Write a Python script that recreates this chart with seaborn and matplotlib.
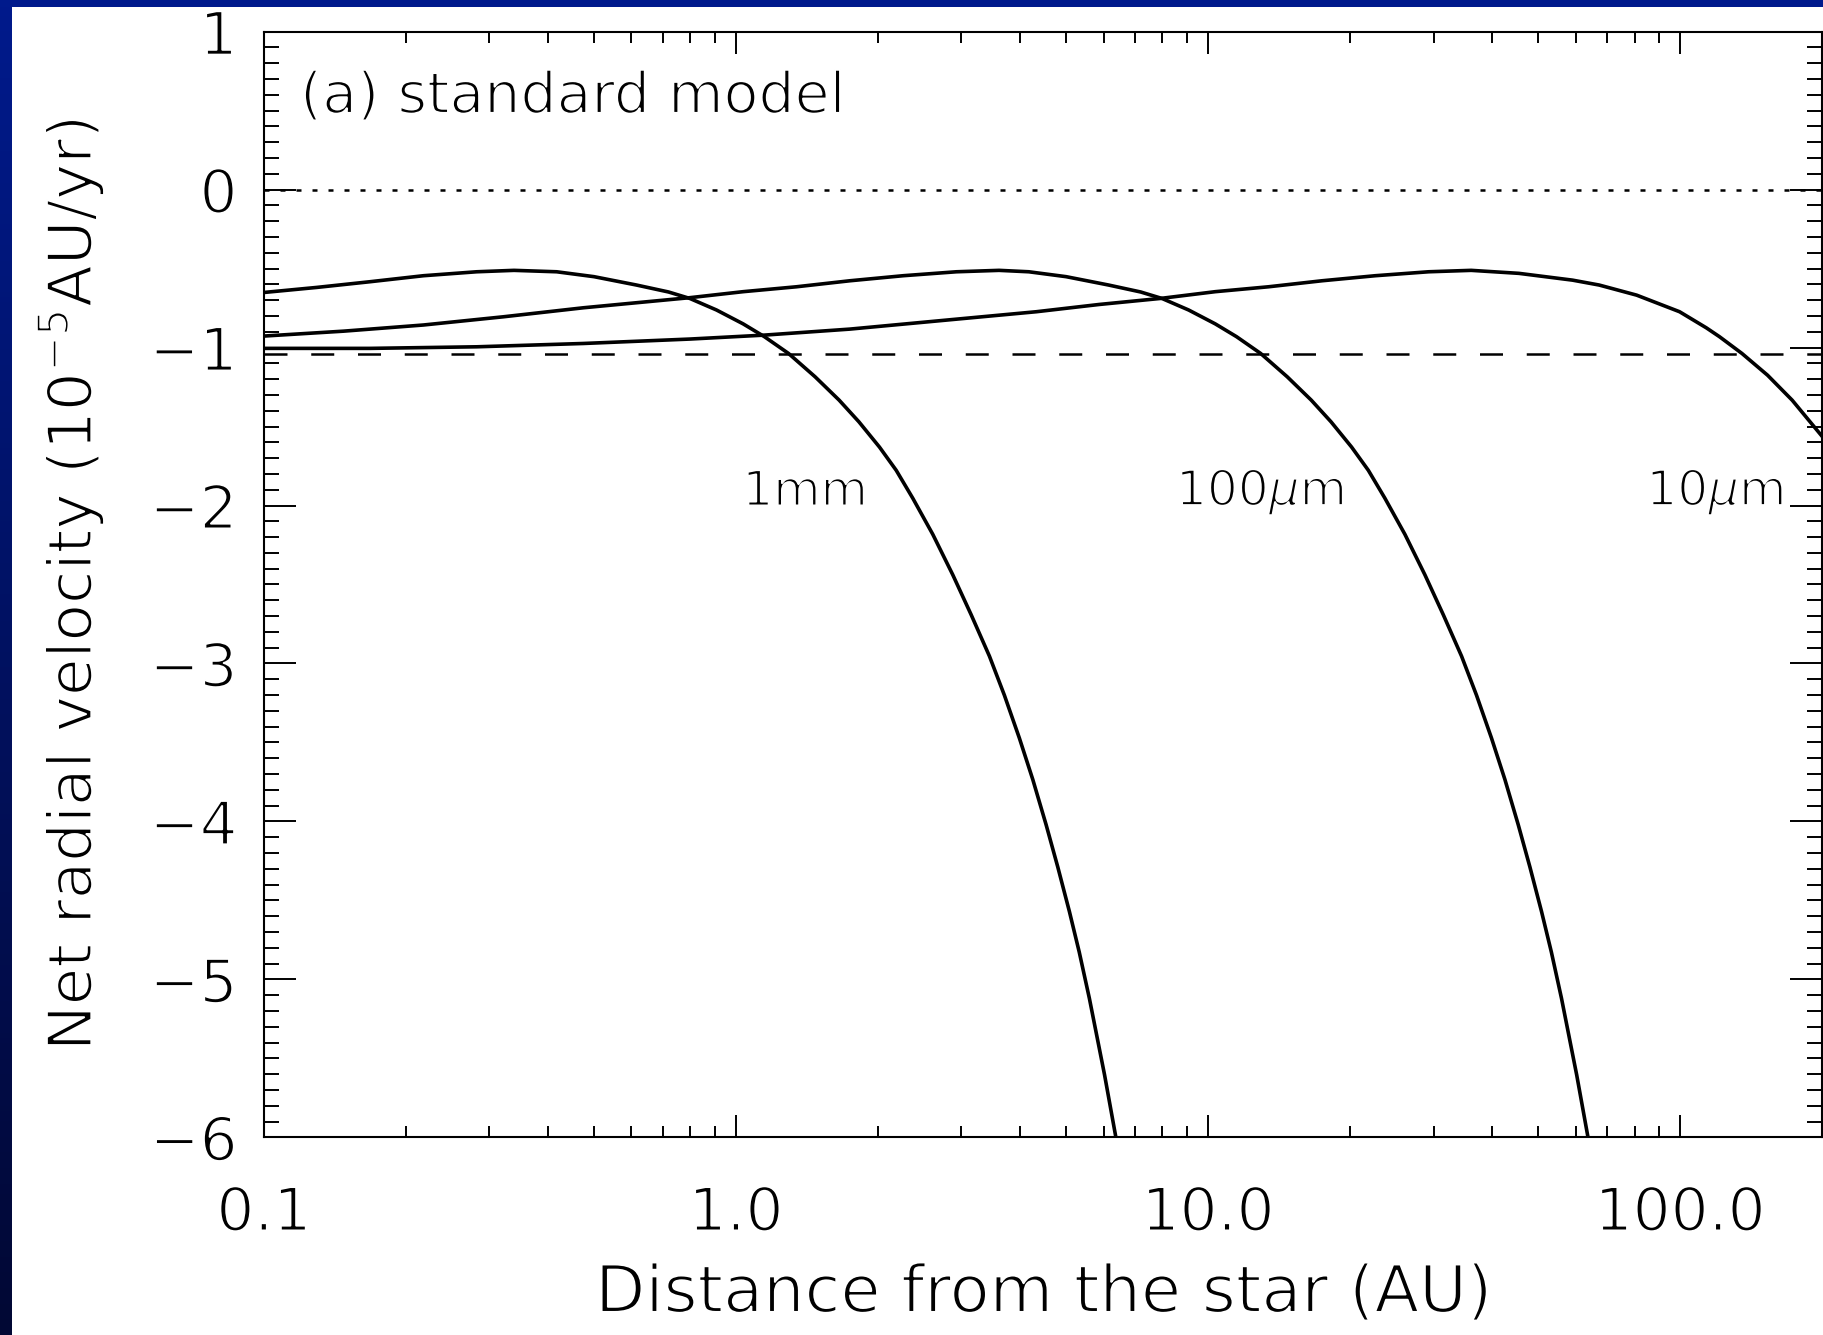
import numpy as np
import pandas as pd
import matplotlib
matplotlib.use("Agg")
import matplotlib.pyplot as plt
import matplotlib.patheffects as pe
import seaborn as sns
from matplotlib.ticker import FixedLocator, FixedFormatter, MultipleLocator

# ---------------- data ----------------
x_1mm = [0.1, 0.1294, 0.1677, 0.2176, 0.2822, 0.3384, 0.4168, 0.5, 0.6152, 0.7193,
         0.798, 0.9087, 1.035, 1.148, 1.291, 1.47, 1.653, 1.82, 2.012, 2.183,
         2.366, 2.609, 2.876, 3.146, 3.44, 3.70, 3.98, 4.25, 4.535, 4.80,
         5.08, 5.33, 5.6, 6.03, 6.38]
v_1mm = [-0.651, -0.619, -0.583, -0.545, -0.520, -0.511, -0.520, -0.551, -0.604, -0.648,
         -0.689, -0.762, -0.850, -0.931, -1.037, -1.185, -1.333, -1.47, -1.63, -1.777,
         -1.953, -2.182, -2.438, -2.691, -2.954, -3.201, -3.472, -3.735, -4.021, -4.288,
         -4.57, -4.827, -5.12, -5.604, -6.008]

x_100um = [0.1, 0.1474, 0.2176, 0.3214, 0.4746, 0.6152, 0.798, 1.035, 1.342, 1.741,
           2.258, 2.929, 3.605, 4.168, 5.0, 6.152, 7.193, 7.98, 9.087, 10.35,
           11.48, 12.91, 14.7, 16.53, 18.2, 20.12, 21.83, 23.66, 26.09, 28.76,
           31.46, 34.4, 37.0, 39.8, 42.5, 45.35, 48.0, 50.8, 53.3, 56.0,
           60.3, 63.8]
v_100um = [-0.927, -0.896, -0.857, -0.805, -0.748, -0.716, -0.684, -0.646, -0.615, -0.577,
           -0.545, -0.520, -0.511, -0.520, -0.551, -0.604, -0.648, -0.689, -0.762, -0.850,
           -0.931, -1.037, -1.185, -1.333, -1.47, -1.63, -1.777, -1.953, -2.182, -2.438,
           -2.691, -2.954, -3.201, -3.472, -3.735, -4.021, -4.288, -4.57, -4.827, -5.12,
           -5.604, -6.008]

x_10um = [0.1, 0.1677, 0.2822, 0.4746, 0.798, 1.148, 1.741, 2.929, 4.323, 5.875,
          7.91, 10.35, 13.42, 17.41, 22.58, 29.29, 36.05, 45.5, 59.1, 67.3,
          80.8, 99.6, 113.5, 121.0, 135.0, 153.0, 172.5, 200.0]
v_10um = [-1.005, -1.005, -0.995, -0.974, -0.946, -0.921, -0.883, -0.820, -0.773, -0.727,
          -0.689, -0.646, -0.615, -0.577, -0.545, -0.520, -0.511, -0.530, -0.573, -0.604,
          -0.668, -0.773, -0.875, -0.931, -1.037, -1.175, -1.333, -1.565]

zero_level = 0.0
dash_level = -1.04

x_major = [0.1, 1.0, 10.0, 100.0]
x_major_labels = ["0.1", "1.0", "10.0", "100.0"]
curve_labels = ["1mm", "100$\\mu$m", "10$\\mu$m"]
curve_label_x = [1.40, 12.9, 118.6]
curve_label_y = [-2.0, -2.0, -2.0]

# ---------------- style ----------------
sns.set_theme(style="ticks")
plt.rcParams["font.family"] = ["DejaVu Sans"]
plt.rcParams["mathtext.fontset"] = "dejavusans"
plt.rcParams["axes.unicode_minus"] = True

thin = [pe.Stroke(linewidth=1.5, foreground="white")]

W, H = 1824, 1335
fig = plt.figure(figsize=(W / 100, H / 100), dpi=100)
fig.patch.set_facecolor("white")

# blue frame (top bar, left gradient bar)
top_blue = np.array([0, 26, 140]) / 255
bot_blue = np.array([2, 8, 52]) / 255
bax = fig.add_axes([0, 0, 12 / W, 1])
grad = np.linspace(0, 1, 256)[:, None, None]
bax.imshow(top_blue * (1 - grad) + bot_blue * grad, aspect="auto")
bax.axis("off")
tax = fig.add_axes([0, 1 - 7 / H, 1, 7 / H])
tax.set_facecolor(top_blue)
tax.set_xticks([]); tax.set_yticks([])
for s in tax.spines.values():
    s.set_visible(False)

left, right, top, bottom = 264, 1822.5, 31.7, 1137.3
ax = fig.add_axes([left / W, 1 - bottom / H, (right - left) / W, (bottom - top) / H])
ax.set_facecolor("white")

for xs, vs in [(x_1mm, v_1mm), (x_100um, v_100um), (x_10um, v_10um)]:
    sns.lineplot(x=xs, y=vs, ax=ax, color="black", linewidth=2.6,
                 sort=False, estimator=None, solid_capstyle="butt",
                 solid_joinstyle="round")

ax.axhline(zero_level, color="black", lw=1.8, ls=(0, (2, 4.4)))
ax.axhline(dash_level, color="black", lw=1.8, ls=(0, (9.2, 9.5)))

ax.set_xscale("log")
ax.set_xlim(0.1, 200)
ax.set_ylim(-6, 1)

ax.xaxis.set_major_locator(FixedLocator(x_major))
ax.xaxis.set_major_formatter(FixedFormatter(x_major_labels))
minors = [k * 10.0 ** e for e in range(-1, 3) for k in range(2, 10)]
ax.xaxis.set_minor_locator(FixedLocator(minors))
ax.xaxis.set_minor_formatter(FixedFormatter([""] * len(minors)))
ax.yaxis.set_major_locator(MultipleLocator(1))
ax.yaxis.set_minor_locator(MultipleLocator(0.1))

ax.tick_params(which="both", direction="in", top=True, right=True,
               color="black", width=1.4)
ax.tick_params(axis="x", which="major", length=15.8, labelsize=43, pad=34)
ax.tick_params(axis="x", which="minor", length=7.7)
ax.tick_params(axis="y", which="major", length=22.8, labelsize=43, pad=19)
ax.tick_params(axis="y", which="minor", length=10.8)

for s in ax.spines.values():
    s.set_visible(True)
    s.set_color("black")
    s.set_linewidth(1.5)

ax.set_xlabel("Distance from the star (AU)", fontsize=47, color="black")
ax.xaxis.set_label_coords(0.5, (bottom - 1262) / (bottom - top))
ax.set_ylabel("Net radial velocity (10$^{-5}$AU/yr)", fontsize=44, color="black")
ax.yaxis.set_label_coords((107 - left) / (right - left), 0.5)

texts = [ax.xaxis.label, ax.yaxis.label]
texts.append(ax.text(0.0231, 0.9265, "(a) standard model", transform=ax.transAxes,
                     fontsize=41, ha="left", va="baseline", color="black"))
for lab, lx, ly in zip(curve_labels, curve_label_x, curve_label_y):
    texts.append(ax.text(lx, ly, lab, fontsize=35, ha="center", va="baseline",
                         color="black"))

fig.canvas.draw()
for t in texts + ax.get_xticklabels() + ax.get_yticklabels():
    t.set_color("black")
    t.set_path_effects(thin)

fig.savefig("out.png", dpi=100)
